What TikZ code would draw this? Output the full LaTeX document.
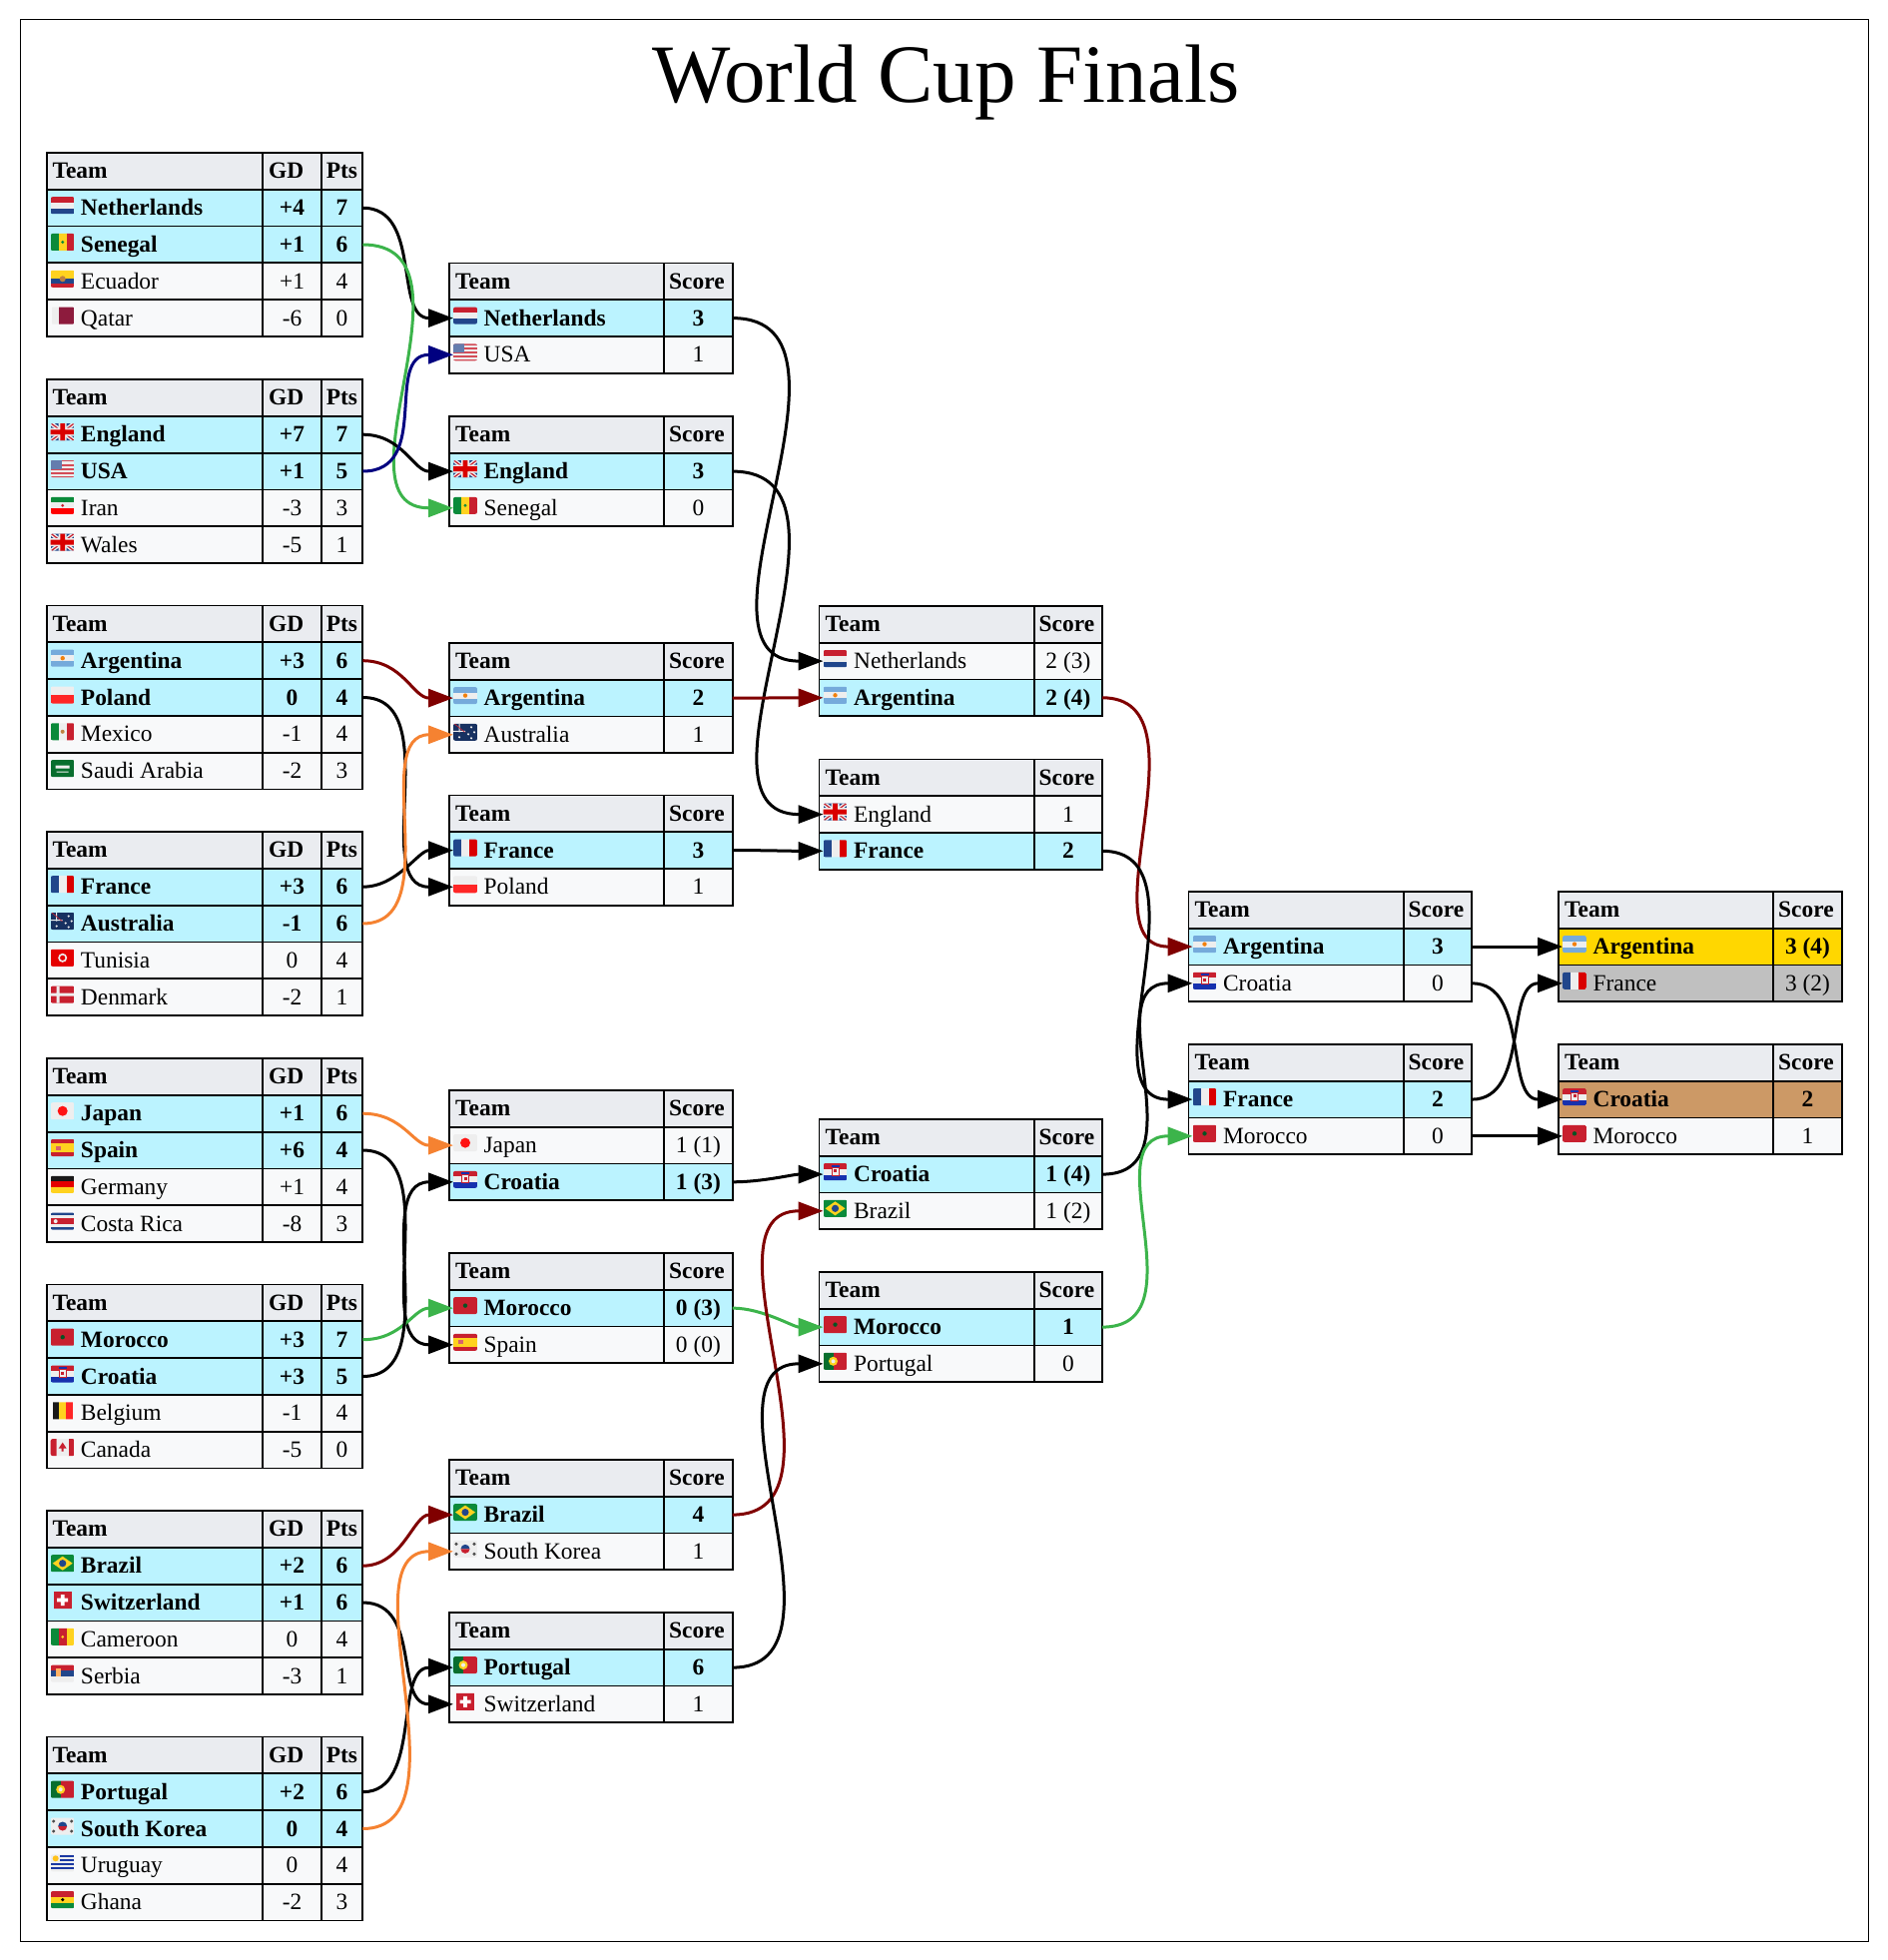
\documentclass[tikz,border=0pt]{standalone}
\usepackage{fontspec}
\setmainfont{Liberation Serif}
\usetikzlibrary{arrows.meta,calc}
\definecolor{headgray}{HTML}{EAECF0}
\definecolor{rowgray}{HTML}{F8F9FA}
\definecolor{rowwin}{HTML}{BBF3FF}
\definecolor{medalgold}{HTML}{FFD700}
\definecolor{medalsilver}{HTML}{C0C0C0}
\definecolor{medalbronze}{HTML}{CC9966}
\definecolor{wirenavy}{HTML}{000080}
\definecolor{wiregreen}{HTML}{3CB44B}
\definecolor{wirered}{HTML}{800000}
\definecolor{wireorange}{HTML}{F58231}
\definecolor{fr}{HTML}{C8202F}
\definecolor{fb}{HTML}{21468B}
\definecolor{fg}{HTML}{0A8A3A}
\definecolor{fy}{HTML}{FFD21F}
\definecolor{fw}{HTML}{EEEEEE}
\definecolor{fs}{HTML}{75AADB}
\definecolor{fq}{HTML}{8D1B3D}
\newcommand{\cellfont}{\fontsize{11.7}{14}\selectfont}
\tikzset{
  cell/.style={draw=black,line width=.9pt,anchor=north west,inner sep=0pt,outer sep=0pt,
    minimum height=18.4pt,text height=10pt,text depth=2.5pt,font=\cellfont},
  headrow/.style={fill=headgray,font=\cellfont\bfseries},
  plainrow/.style={fill=rowgray},
  winrow/.style={fill=rowwin,font=\cellfont\bfseries},
  goldrow/.style={fill=medalgold,font=\cellfont\bfseries},
  silverrow/.style={fill=medalsilver},
  bronzerow/.style={fill=medalbronze,font=\cellfont\bfseries},
  flagspot/.style={inner sep=0pt,outer sep=0pt,minimum width=12pt,minimum height=8pt},
  wire/.style={line width=1.5pt,-{Triangle[length=12.5pt,width=9pt]}}
}
% flags, drawn around (0,0), 24 wide and 17 high
\newcommand{\flagH}[3]{\fill[#1] (-12,-9) rectangle (12,-3);\fill[#2] (-12,-3) rectangle (12,3);\fill[#3] (-12,3) rectangle (12,9);}
\newcommand{\flagV}[3]{\fill[#1] (-12,-9) rectangle (-4,9);\fill[#2] (-4,-9) rectangle (4,9);\fill[#3] (4,-9) rectangle (12,9);}
\newcommand{\flagjack}{\fill[fb] (-12,-9) rectangle (12,9);
  \draw[fw,line width=2pt] (-12,-9) -- (12,9) (-12,9) -- (12,-9);
  \draw[fr,line width=.6pt] (-12,-9) -- (12,9) (-12,9) -- (12,-9);
  \fill[fw] (-12,-4) rectangle (12,4) (-4,-9) rectangle (4,9);
  \fill[red!85!black] (-12,-2.4) rectangle (12,2.4) (-2.4,-9) rectangle (2.4,9);}
\newcommand{\flagnl}{\flagH{fr}{fw}{fb}}
\newcommand{\flagsn}{\flagV{fg}{fy}{fr}\fill[fg] (0,0) circle (1.6);}
\newcommand{\flagec}{\fill[fy] (-12,-9) rectangle (12,0);\fill[fb] (-12,0) rectangle (12,4.5);\fill[fr] (-12,4.5) rectangle (12,9);\fill[brown] (0,0) circle (3);}
\newcommand{\flagqa}{\fill[fw] (-11,-9) rectangle (-4,9);\fill[fq] (-4,-9) rectangle (11,9);}
\newcommand{\flagen}{\flagjack}
\newcommand{\flagwa}{\flagjack}
\newcommand{\flagus}{\fill[fw] (-12,-9) rectangle (12,9);
  \foreach \s in {-9,-4.8,-.6,3.6,7.5} \fill[fr!80!white] (-12,\s) rectangle (12,\s+1.8);
  \fill[fb!70!white] (-12,-9) rectangle (-1,0);}
\newcommand{\flagir}{\flagH{fg}{fw}{red}\fill[fr] (0,0) circle (1.6);}
\newcommand{\flagar}{\flagH{fs}{fw}{fs}\fill[orange!80!brown] (0,0) circle (2.2);}
\newcommand{\flagpl}{\fill[fw] (-12,-9) rectangle (12,0);\fill[red!80!pink] (-12,0) rectangle (12,9);}
\newcommand{\flagmx}{\flagV{fg}{fw}{fr}\fill[brown] (0,0) circle (2);}
\newcommand{\flagsa}{\fill[fg!80!black] (-12,-9) rectangle (12,9);\fill[fw] (-7,-3) rectangle (7,0) (-6,3) rectangle (6,4);}
\newcommand{\flagfr}{\flagV{fb}{fw}{red!85!black}}
\newcommand{\flagau}{\fill[fb!70!black] (-12,-9) rectangle (12,9);\fill[fw] (-12,-1.5) rectangle (0,-.5) (-6.5,-9) rectangle (-5.5,0);\fill[fr] (-12,-9) -- (-11,-9) -- (0,0) -- (-1,0) -- cycle;\foreach \a/\b in {6/-5,9/0,3/2,6/6,-6/5} \fill[fw] (\a,\b) circle (1.2);}
\newcommand{\flagtn}{\fill[red!90!black] (-12,-9) rectangle (12,9);\fill[fw] (0,0) circle (4.5);\fill[red!90!black] (0,0) circle (2.6);}
\newcommand{\flagdk}{\fill[fr] (-12,-9) rectangle (12,9);\fill[fw] (-12,-1.5) rectangle (12,1.5) (-6,-9) rectangle (-3,9);}
\newcommand{\flagjp}{\fill[fw] (-12,-9) rectangle (12,9);\fill[red!90!pink] (0,0) circle (5);}
\newcommand{\flages}{\fill[fr] (-12,-9) rectangle (12,9);\fill[fy] (-12,-4.5) rectangle (12,4.5);\fill[fr!70!white] (-7,-2) rectangle (-2,2);}
\newcommand{\flagde}{\flagH{black!90}{red!90!black}{fy}}
\newcommand{\flagcr}{\fill[fb] (-12,-9) rectangle (12,9);\fill[fw] (-12,-6) rectangle (12,6);\fill[fr] (-12,-3) rectangle (12,3);\fill[fw] (-7,0) circle (2);}
\newcommand{\flagma}{\fill[fr] (-12,-9) rectangle (12,9);\fill[fg!60!black] (0,0) circle (2.2);}
\newcommand{\flaghr}{\flagH{fr}{fw}{fb!70!blue}\fill[fw,draw=fr,line width=.5pt] (-3.5,-4.5) rectangle (3.5,3.5);\fill[fb!70!blue] (-4,-7) rectangle (4,-5);\fill[fr] (-1.5,-2.5) rectangle (1.5,.5);}
\newcommand{\flagbe}{\fill[black!90] (-10,-9) rectangle (-3.3,9);\fill[fy] (-3.3,-9) rectangle (3.3,9);\fill[red!80!pink] (3.3,-9) rectangle (10,9);}
\newcommand{\flagca}{\fill[fr] (-12,-9) rectangle (-6,9) (6,-9) rectangle (12,9);\fill[fw] (-6,-9) rectangle (6,9);\fill[fr] (0,-5) -- (4,1) -- (1,1) -- (1,4) -- (-1,4) -- (-1,1) -- (-4,1) -- cycle;}
\newcommand{\flagbr}{\fill[fg] (-12,-9) rectangle (12,9);\fill[fy] (-10,0) -- (0,-7) -- (10,0) -- (0,7) -- cycle;\fill[fb] (0,0) circle (3.6);}
\newcommand{\flagch}{\fill[fr] (-9,-9) rectangle (9,9);\fill[white] (-5.5,-1.8) rectangle (5.5,1.8) (-1.8,-5.5) rectangle (1.8,5.5);}
\newcommand{\flagcm}{\flagV{fg}{fr}{fy}\fill[fy] (0,0) circle (1.5);}
\newcommand{\flagrs}{\flagH{fr}{fb}{fw}\fill[orange!60!white] (-7,-5) rectangle (-2,3);}
\newcommand{\flagpt}{\fill[fg!80!black] (-12,-9) rectangle (-2,9);\fill[fr] (-2,-9) rectangle (12,9);\fill[fy] (-2,0) circle (4.5);\fill[fw] (-2,0) circle (2);}
\newcommand{\flagkr}{\fill[fw] (-12,-9) rectangle (12,9);\fill[fb] (-4.5,0) arc (180:360:4.5) -- cycle;\fill[fr] (-4.5,0) arc (180:0:4.5) -- cycle;
  \foreach \a/\b in {-9/-5,9/-5,-9/5,9/5} \fill[black!70] (\a,\b) circle (1.7);}
\newcommand{\flaguy}{\fill[fw] (-12,-9) rectangle (12,9);\foreach \s in {-8,-4} \fill[fb!80!blue] (-3,\s) rectangle (12,\s+2);\foreach \s in {0,4} \fill[fb!80!blue] (-12,\s) rectangle (12,\s+2);\fill[fy!80!orange] (-7,-4.5) circle (3);}
\newcommand{\flaggh}{\flagH{fr}{fy}{fg}\fill[black] (0,0) circle (1.8);}
% one flag and its spot in a team cell
\newcommand{\putflag}[2]{%
  \node[flagspot,anchor=west] (#1-flag) at ([xshift=2pt]#1.west) {};
  \begin{scope}[shift={($(#1-flag.center)+(0,-2.5)$)}]
    \clip[rounded corners=1pt] (-12,-8.5) rectangle (12,8.5);
    \csname flag#2\endcsname
  \end{scope}}
% group tables
\newcommand{\grouptable}[3]{%
  \node[cell,headrow,minimum width=108.3pt] (#1-h) at (46.7,#2) {\makebox[108pt][l]{\hspace*{2.8pt}Team}};
  \node[cell,headrow,minimum width=29.2pt] (#1-h-gd) at (263.3,#2) {\makebox[29pt][l]{\hspace*{2.8pt}GD}};
  \node[cell,headrow,minimum width=20.8pt] (#1-h-end) at (321.7,#2) {\makebox[20.5pt][l]{\hspace*{2.4pt}Pts}};
  \foreach \flg/\tm/\gd/\pt/\kind [count=\n] in {#3} {
    \node[cell,\kind,minimum width=108.3pt] (#1-\n) at (46.7,{#2+36.8*\n}) {\makebox[108pt][l]{\hspace*{17pt}\tm}};
    \node[cell,\kind,minimum width=29.2pt] (#1-\n-gd) at (263.3,{#2+36.8*\n}) {\gd};
    \node[cell,\kind,minimum width=20.8pt] (#1-\n-end) at (321.7,{#2+36.8*\n}) {\pt};
    \putflag{#1-\n}{\flg}
  }}
% knockout tables
\newcommand{\kotable}[4]{%
  \node[cell,headrow,minimum width=107.6pt] (#1-h) at (#2,#3) {\makebox[107pt][l]{\hspace*{2.8pt}Team}};
  \node[cell,headrow,minimum width=34.2pt] (#1-h-end) at ({#2+215.2},#3) {\makebox[34pt][l]{\hspace*{2.4pt}Score}};
  \foreach \flg/\tm/\sc/\kind [count=\n] in {#4} {
    \node[cell,\kind,minimum width=107.6pt] (#1-\n) at (#2,{#3+36.7*\n}) {\makebox[107pt][l]{\hspace*{17pt}\tm}};
    \node[cell,\kind,minimum width=34.2pt] (#1-\n-end) at ({#2+215.2},{#3+36.7*\n}) {\sc};
    \putflag{#1-\n}{\flg}
  }}
\begin{document}
\begin{tikzpicture}[x=.5pt,y=-.5pt]
\useasboundingbox (0,0) rectangle (1890,1963);
\node[draw=black,line width=.7pt,inner sep=0pt,minimum width=925.5pt,minimum height=962.5pt,anchor=north west] (frame) at (20,19) {};
\node[font=\fontsize{41.5}{47}\selectfont] (title) at (947.5,83) {World Cup Finals};
% groups
\grouptable{gNL}{153}{nl/Netherlands/+4/7/winrow,sn/Senegal/+1/6/winrow,ec/Ecuador/+1/4/plainrow,qa/Qatar/-6/0/plainrow}
\grouptable{gEN}{380}{en/England/+7/7/winrow,us/USA/+1/5/winrow,ir/Iran/-3/3/plainrow,wa/Wales/-5/1/plainrow}
\grouptable{gAR}{606.5}{ar/Argentina/+3/6/winrow,pl/Poland/0/4/winrow,mx/Mexico/-1/4/plainrow,sa/Saudi Arabia/-2/3/plainrow}
\grouptable{gFR}{833}{fr/France/+3/6/winrow,au/Australia/-1/6/winrow,tn/Tunisia/0/4/plainrow,dk/Denmark/-2/1/plainrow}
\grouptable{gJP}{1060}{jp/Japan/+1/6/winrow,es/Spain/+6/4/winrow,de/Germany/+1/4/plainrow,cr/Costa Rica/-8/3/plainrow}
\grouptable{gMA}{1286.5}{ma/Morocco/+3/7/winrow,hr/Croatia/+3/5/winrow,be/Belgium/-1/4/plainrow,ca/Canada/-5/0/plainrow}
\grouptable{gBR}{1513}{br/Brazil/+2/6/winrow,ch/Switzerland/+1/6/winrow,cm/Cameroon/0/4/plainrow,rs/Serbia/-3/1/plainrow}
\grouptable{gPT}{1739.5}{pt/Portugal/+2/6/winrow,kr/South Korea/0/4/winrow,uy/Uruguay/0/4/plainrow,gh/Ghana/-2/3/plainrow}
% last sixteen
\kotable{kA}{450}{263.5}{nl/Netherlands/3/winrow,us/USA/1/plainrow}
\kotable{kB}{450}{417}{en/England/3/winrow,sn/Senegal/0/plainrow}
\kotable{kC}{450}{644}{ar/Argentina/2/winrow,au/Australia/1/plainrow}
\kotable{kD}{450}{796.5}{fr/France/3/winrow,pl/Poland/1/plainrow}
\kotable{kE}{450}{1092}{jp/Japan/1 (1)/plainrow,hr/Croatia/1 (3)/winrow}
\kotable{kF}{450}{1255}{ma/Morocco/0 (3)/winrow,es/Spain/0 (0)/plainrow}
\kotable{kG}{450}{1462}{br/Brazil/4/winrow,kr/South Korea/1/plainrow}
\kotable{kH}{450}{1615}{pt/Portugal/6/winrow,ch/Switzerland/1/plainrow}
% quarter finals
\kotable{qA}{820.5}{607}{nl/Netherlands/2 (3)/plainrow,ar/Argentina/2 (4)/winrow}
\kotable{qB}{820.5}{760.5}{en/England/1/plainrow,fr/France/2/winrow}
\kotable{qC}{820.5}{1121}{hr/Croatia/1 (4)/winrow,br/Brazil/1 (2)/plainrow}
\kotable{qD}{820.5}{1274}{ma/Morocco/1/winrow,pt/Portugal/0/plainrow}
% semi finals
\kotable{sA}{1190.5}{893}{ar/Argentina/3/winrow,hr/Croatia/0/plainrow}
\kotable{sB}{1190.5}{1046}{fr/France/2/winrow,ma/Morocco/0/plainrow}
% final and third place
\kotable{fA}{1561}{893}{ar/Argentina/3 (4)/goldrow,fr/France/3 (2)/silverrow}
\kotable{fB}{1561}{1046}{hr/Croatia/2/bronzerow,ma/Morocco/1/plainrow}
% connectors
\foreach \src/\dst/\bend/\wcol in {
  gNL-1/kA-1/60/black,gNL-2/kB-2/125/wiregreen,gEN-1/kB-1/40/black,gEN-2/kA-2/70/wirenavy,
  gAR-1/kC-1/40/wirered,gAR-2/kD-2/85/black,gFR-1/kD-1/35/black,gFR-2/kC-2/85/wireorange,
  gJP-1/kE-1/40/wireorange,gJP-2/kF-2/85/black,gMA-1/kF-1/40/wiregreen,gMA-2/kE-2/85/black,
  gBR-1/kG-1/40/wirered,gBR-2/kH-2/60/black,gPT-1/kH-1/60/black,gPT-2/kG-2/110/wireorange,
  kA-1/qA-1/150/black,kB-1/qB-1/150/black,kC-1/qA-2/40/wirered,kD-1/qB-2/40/black,
  kE-2/qC-1/30/black,kF-1/qD-1/30/wiregreen,kG-1/qC-2/130/wirered,kH-1/qD-2/130/black,
  qA-2/sA-1/110/wirered,qB-2/sB-1/110/black,qC-1/sA-2/100/black,qD-1/sB-2/100/wiregreen,
  sA-1/fA-1/40/black,sA-2/fB-1/58/black,sB-1/fA-2/58/black,sB-2/fB-2/40/black} {
  \draw[wire,color=\wcol] (\src-end.east) .. controls +(\bend,0) and +(-\bend,0) .. (\dst-flag.west);
}
\end{tikzpicture}
\end{document}
